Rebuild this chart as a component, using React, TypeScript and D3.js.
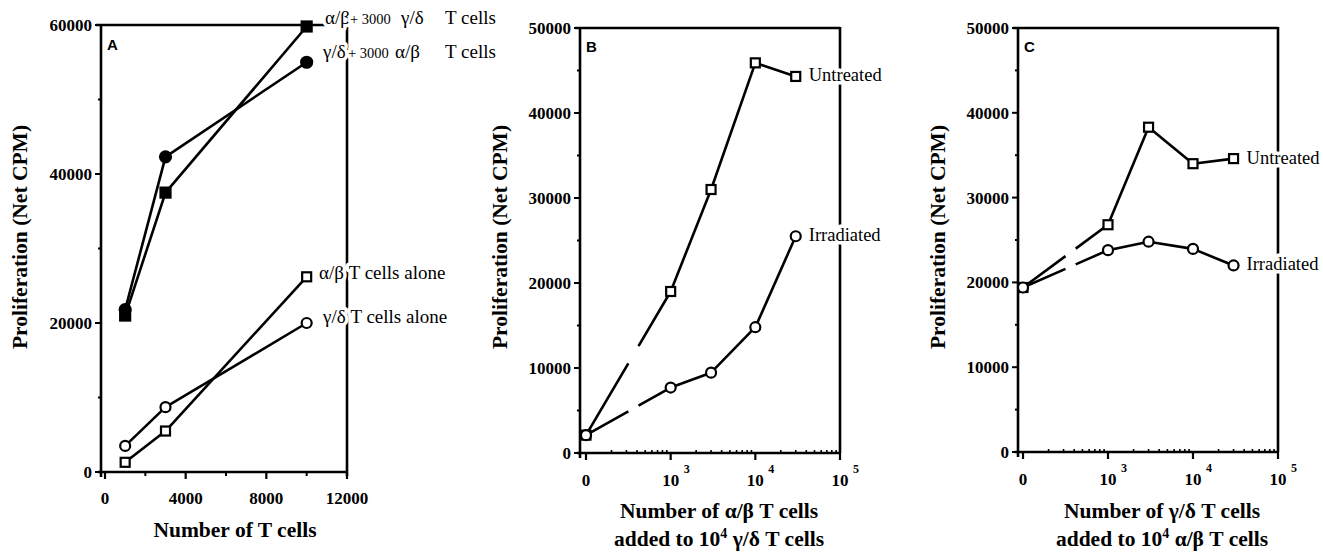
import React from "react";
import * as d3 from "d3";

// Panel A data
const A_X = [1000, 3000, 10000];
const A_AB_PLUS = [21000, 37500, 59800];
const A_GD_PLUS = [21800, 42300, 55000];
const A_AB_ALONE = [1300, 5500, 26200];
const A_GD_ALONE = [3500, 8700, 20000];
const A_YTICKS = [0, 20000, 40000, 60000];
const A_YMINOR = [10000, 30000, 50000];
const A_XTICKS = [0, 4000, 8000, 12000];
const A_XMINOR = [2000, 6000, 10000];

// Panels B and C data
const BC_X = [0, 1000, 3000, 10000, 30000];
const B_UNTREATED = [2100, 19000, 31000, 45900, 44300];
const B_IRRADIATED = [2100, 7700, 9450, 14800, 25500];
const C_UNTREATED = [19400, 26800, 38300, 34000, 34600];
const C_IRRADIATED = [19400, 23800, 24800, 23950, 22000];
const BC_YTICKS = [0, 10000, 20000, 30000, 40000, 50000];
const BC_YMINOR = [5000, 15000, 25000, 35000, 45000];
const BC_XTICKS = [0, 1000, 10000, 100000];
const BC_XLABEL_EXP = ["", "3", "4", "5"];

const SERIF = "'Liberation Serif', 'Times New Roman', serif";
const SANS = "'Liberation Sans', Arial, sans-serif";
const LW = 2.6;
const TITLE_FS = 21.5;

function Square({ x, y, filled }: { x: number; y: number; filled: boolean }) {
  const s = filled ? 10 : 9;
  return (
    <rect x={x - s / 2} y={y - s / 2} width={s} height={s}
      fill={filled ? "#000" : "#fff"} stroke="#000" strokeWidth={2.2} />
  );
}
function Circle({ x, y, filled }: { x: number; y: number; filled: boolean }) {
  return <circle cx={x} cy={y} r={filled ? 5.5 : 5} fill={filled ? "#000" : "#fff"} stroke="#000" strokeWidth={2.2} />;
}

function Series({ xs, ys, sx, sy, marker, filled, dashFirst }: any) {
  const pts = xs.map((v: number, i: number) => [sx(v), sy(ys[i])]);
  const segs = [];
  for (let i = 0; i < pts.length - 1; i++) {
    const [x1, y1] = pts[i];
    const [x2, y2] = pts[i + 1];
    const L = Math.hypot(x2 - x1, y2 - y1);
    const dash = dashFirst && i === 0 ? `${0.5 * L} ${0.12 * L} ${L}` : undefined;
    segs.push(
      <path key={i} d={d3.line()([[x1, y1], [x2, y2]]) as string} stroke="#000"
        strokeWidth={LW} fill="none" strokeDasharray={dash} />
    );
  }
  return (
    <g>
      {segs}
      {pts.map(([x, y]: number[], i: number) =>
        marker === "square" ? <Square key={i} x={x} y={y} filled={filled} /> : <Circle key={i} x={x} y={y} filled={filled} />
      )}
    </g>
  );
}

function YAxis({ axisX, sy, ticks, minor, top, bottom }: any) {
  return (
    <g>
      <line x1={axisX} x2={axisX} y1={top - 1} y2={bottom + 5} stroke="#000" strokeWidth={LW} />
      {ticks.map((t: number) => (
        <g key={t}>
          <line x1={axisX - 6} x2={axisX} y1={sy(t)} y2={sy(t)} stroke="#000" strokeWidth={2} />
          <text x={axisX - 9} y={sy(t) + 6} textAnchor="end" fontFamily={SERIF} fontWeight="bold" fontSize={17}>{t}</text>
        </g>
      ))}
      {minor.map((t: number) => (
        <line key={t} x1={axisX - 3} x2={axisX} y1={sy(t)} y2={sy(t)} stroke="#000" strokeWidth={2} />
      ))}
    </g>
  );
}

const haloStyle: any = { paintOrder: "stroke", stroke: "#fff", strokeWidth: 7, strokeLinejoin: "round" };

export default function App() {
  // Panel A scales
  const xA = d3.scaleLinear().domain([0, 12000]).range([105, 347]);
  const yA = d3.scaleLinear().domain([0, 60000]).range([472, 25]);
  // Panel B
  const lB = d3.scaleLog().domain([100, 100000]).range([586, 840]);
  const xB = (v: number) => lB(v === 0 ? 100 : v);
  const yB = d3.scaleLinear().domain([0, 50000]).range([453, 28]);
  // Panel C
  const lC = d3.scaleLog().domain([100, 100000]).range([1023, 1278]);
  const xC = (v: number) => lC(v === 0 ? 100 : v);
  const yC = d3.scaleLinear().domain([0, 50000]).range([452, 28]);

  const logMinor = (l: any) => l.ticks().filter((t: number) => ![100, 1000, 10000, 100000].includes(t));

  const panelBC = (key: string, l: any, x: any, y: any, axisX: number, s1: number[], s2: number[], title1: any, title2: any, letter: string, titleX: number, yTitleX: number) => {
    const x1 = l.range()[1];
    const top = y(50000);
    const bot = y(0);
    return (
      <g key={key}>
        {/* frame */}
        <line x1={axisX - 5} x2={x1} y1={top} y2={top} stroke="#000" strokeWidth={LW} />
        <line x1={x1} x2={x1} y1={top - 1} y2={bot} stroke="#000" strokeWidth={LW} />
        <line x1={axisX - 3} x2={x1} y1={bot} y2={bot} stroke="#000" strokeWidth={LW} />
        <YAxis axisX={axisX} sy={y} ticks={BC_YTICKS} minor={BC_YMINOR} top={top} bottom={bot} />
        {BC_XTICKS.map((t, i) => (
          <g key={t}>
            <line x1={x(t)} x2={x(t)} y1={bot} y2={bot + 7} stroke="#000" strokeWidth={2.2} />
            {i === 0 ? (
              <text x={x(t)} y={bot + 33} textAnchor="middle" fontFamily={SERIF} fontWeight="bold" fontSize={17}>0</text>
            ) : (
              <g>
                <text x={x(t)} y={bot + 33} textAnchor="middle" fontFamily={SERIF} fontWeight="bold" fontSize={17}>10</text>
                <text x={x(t) + 13} y={bot + 20} textAnchor="start" fontFamily={SERIF} fontWeight="bold" fontSize={12}>{BC_XLABEL_EXP[i]}</text>
              </g>
            )}
          </g>
        ))}
        {logMinor(l).map((t: number) => (
          <line key={t} x1={l(t)} x2={l(t)} y1={bot} y2={bot - 3} stroke="#000" strokeWidth={1.6} />
        ))}
        <text x={axisX + 6} y={top + 24} fontFamily={SANS} fontWeight="bold" fontSize={15}>{letter}</text>
        <Series xs={BC_X} ys={s1} sx={x} sy={y} marker="square" filled={false} dashFirst />
        <Series xs={BC_X} ys={s2} sx={x} sy={y} marker="circle" filled={false} dashFirst />
        <text x={x(BC_X[4]) + 13} y={y(s1[4]) + 5} fontFamily={SERIF} fontSize={18.5} style={haloStyle}>Untreated</text>
        <text x={x(BC_X[4]) + 13} y={y(s2[4]) + 5} fontFamily={SERIF} fontSize={18.5} style={haloStyle}>Irradiated</text>
        <text x={titleX} y={518} textAnchor="middle" fontFamily={SERIF} fontWeight="bold" fontSize={TITLE_FS}>{title1}</text>
        <text x={titleX} y={546} textAnchor="middle" fontFamily={SERIF} fontWeight="bold" fontSize={TITLE_FS}>{title2}</text>
        <text transform={`translate(${yTitleX},237) rotate(-90)`} textAnchor="middle" fontFamily={SERIF} fontWeight="bold" fontSize={TITLE_FS}>Proliferation (Net CPM)</text>
      </g>
    );
  };

  const aTop = yA(60000);
  const aBot = yA(0);
  const aAxisX = 101;
  const aRight = xA(12000);

  return (
    <svg width={1323} height={552} style={{ position: "absolute", left: 0, top: 0, background: "#fff" }}>
      <rect x={0} y={0} width={1323} height={552} fill="#fff" />
      {/* Panel A */}
      <g>
        <line x1={aAxisX - 5} x2={aRight} y1={aTop} y2={aTop} stroke="#000" strokeWidth={LW} />
        <line x1={aRight} x2={aRight} y1={aTop - 1} y2={aBot + 4} stroke="#000" strokeWidth={LW} />
        <line x1={aAxisX - 3} x2={aRight} y1={aBot} y2={aBot} stroke="#000" strokeWidth={LW} />
        <YAxis axisX={aAxisX} sy={yA} ticks={A_YTICKS} minor={A_YMINOR} top={aTop} bottom={aBot} />
        {A_XTICKS.map((t) => (
          <g key={t}>
            <line x1={xA(t)} x2={xA(t)} y1={aBot} y2={aBot + 7} stroke="#000" strokeWidth={2.2} />
            <text x={xA(t)} y={aBot + 32} textAnchor="middle" fontFamily={SERIF} fontWeight="bold" fontSize={17}>{t}</text>
          </g>
        ))}
        {A_XMINOR.map((t) => (
          <line key={t} x1={xA(t)} x2={xA(t)} y1={aBot} y2={aBot + 4} stroke="#000" strokeWidth={2} />
        ))}
        <text x={aAxisX + 6} y={aTop + 25} fontFamily={SANS} fontWeight="bold" fontSize={15}>A</text>
        <Series xs={A_X} ys={A_AB_PLUS} sx={xA} sy={yA} marker="square" filled />
        <Series xs={A_X} ys={A_GD_PLUS} sx={xA} sy={yA} marker="circle" filled />
        <Series xs={A_X} ys={A_AB_ALONE} sx={xA} sy={yA} marker="square" filled={false} />
        <Series xs={A_X} ys={A_GD_ALONE} sx={xA} sy={yA} marker="circle" filled={false} />
        <text y={yA(A_AB_PLUS[2]) - 2} fontFamily={SERIF} fontSize={19} style={haloStyle}>
          <tspan x={325}>α/β</tspan>
          <tspan x={350} fontSize={14.5}>+ 3000</tspan>
          <tspan x={401}>γ/δ</tspan>
          <tspan x={445}>T cells</tspan>
        </text>
        <text y={yA(A_GD_PLUS[2]) - 4} fontFamily={SERIF} fontSize={19} style={haloStyle}>
          <tspan x={323}>γ/δ</tspan>
          <tspan x={348} fontSize={14.5}>+ 3000</tspan>
          <tspan x={395}>α/β</tspan>
          <tspan x={445}>T cells</tspan>
        </text>
        <text x={319} y={yA(A_AB_ALONE[2]) + 2} fontFamily={SERIF} fontSize={19} style={haloStyle}>α/β T cells alone</text>
        <text x={323} y={yA(A_GD_ALONE[2])} fontFamily={SERIF} fontSize={19} style={haloStyle}>γ/δ T cells alone</text>
        <text x={235} y={537} textAnchor="middle" fontFamily={SERIF} fontWeight="bold" fontSize={TITLE_FS}>Number of T cells</text>
        <text transform={`translate(27,237) rotate(-90)`} textAnchor="middle" fontFamily={SERIF} fontWeight="bold" fontSize={TITLE_FS}>Proliferation (Net CPM)</text>
      </g>
      {panelBC("B", lB, xB, yB, 580, B_UNTREATED, B_IRRADIATED,
        <>Number of α/β T cells</>,
        <>added to 10<tspan fontSize={14} dy={-8}>4</tspan><tspan dy={8}> γ/δ T cells</tspan></>,
        "B", 719, 507)}
      {panelBC("C", lC, xC, yC, 1018, C_UNTREATED, C_IRRADIATED,
        <>Number of γ/δ T cells</>,
        <>added to 10<tspan fontSize={14} dy={-8}>4</tspan><tspan dy={8}> α/β T cells</tspan></>,
        "C", 1162, 945)}
    </svg>
  );
}
